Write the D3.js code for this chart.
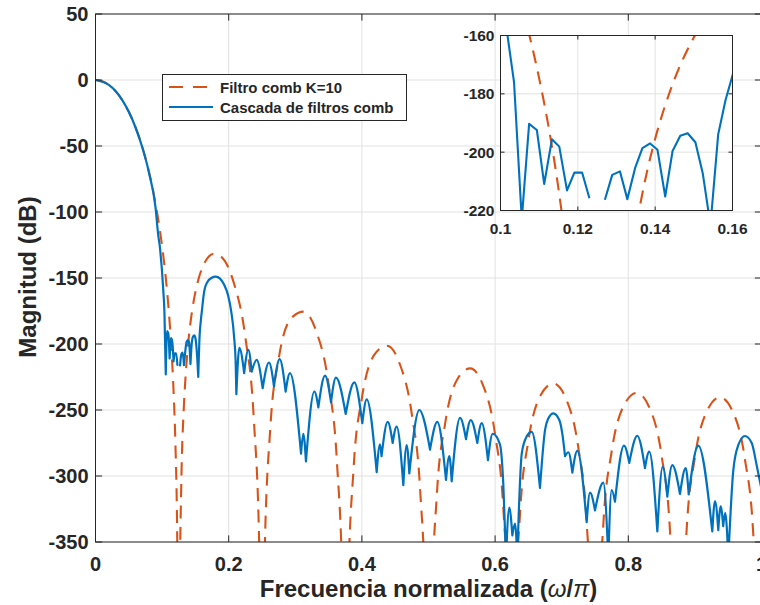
<!DOCTYPE html>
<html>
<head>
<meta charset="utf-8">
<script src="https://cdn.jsdelivr.net/npm/d3@7"></script>
<style>
  body { margin: 0; background: #fff; }
  svg text { font-family: "Liberation Sans", Arial, Helvetica, sans-serif; font-weight: bold; fill: #262626; }
</style>
</head>
<body>
<div id="chart"></div>
<script>
// Filtro comb K=10 (values below -350 only shape the nulls)
const combFreq = [0, 0.01, 0.02, 0.03, 0.04, 0.05, 0.06, 0.07, 0.08, 0.09, 0.095, 0.1, 0.105, 0.1075, 0.11, 0.1125, 0.115, 0.1175, 0.12, 0.1225, 0.124, 0.125,
  0.12625, 0.12875, 0.1325, 0.135, 0.1375, 0.14, 0.1425, 0.145, 0.1475, 0.15, 0.155, 0.16, 0.16875, 0.1775, 0.1875, 0.20625, 0.225, 0.2375, 0.24625, 0.24875, 0.25,
  0.25125, 0.25375, 0.2625, 0.275, 0.29375, 0.3125, 0.33125, 0.35, 0.3625, 0.37125, 0.37375, 0.375,
  0.37625, 0.37875, 0.3875, 0.4, 0.41875, 0.4375, 0.45625, 0.475, 0.4875, 0.49625, 0.49875, 0.5,
  0.50125, 0.50375, 0.5125, 0.525, 0.54375, 0.5625, 0.58125, 0.6, 0.6125, 0.62125, 0.62375, 0.625,
  0.62625, 0.62875, 0.6375, 0.65, 0.66875, 0.6875, 0.70625, 0.725, 0.7375, 0.74625, 0.74875, 0.75,
  0.75125, 0.75375, 0.7625, 0.775, 0.79375, 0.8125, 0.83125, 0.85, 0.8625, 0.87125, 0.87375, 0.875,
  0.87625, 0.87875, 0.8875, 0.9, 0.91875, 0.9375, 0.95625, 0.975, 0.9875, 0.99625, 1];
const combDb = [0, -0.9, -3.7, -8.4, -15.1, -24.1, -35.7, -50.4, -69.1, -93.3, -108.2, -125.9, -147.3, -160.1, -174.7, -191.8, -212.6, -239.1, -275.8, -337.6, -418, -500,
  -400, -307, -249.4, -226.4, -209, -195.4, -184.3, -175, -167.2, -160.7, -150.2, -142.6, -134.5, -131.6, -133.4, -151.4, -194.9, -255.2, -361.4, -458, -520,
  -458, -364, -263.4, -211.4, -180.5, -175.5, -190.1, -230.6, -289.2, -394.3, -490, -560,
  -490.6, -395.8, -294.3, -240.9, -208.1, -201.3, -214.3, -253.4, -311, -415.5, -511, -580,
  -511.5, -416.5, -314.4, -260.2, -226.3, -218.5, -230.5, -268.6, -325.6, -429.7, -525, -590,
  -525.5, -430.4, -327.9, -273.2, -238.5, -229.9, -241.3, -278.7, -335.2, -439, -534.5, -600,
  -534.6, -439.4, -336.6, -281.5, -246.2, -237, -247.7, -284.6, -340.8, -444.4, -539.7, -600,
  -539.8, -444.6, -341.5, -285.9, -250.1, -240.4, -250.6, -287, -342.8, -446, -600];

// Cascada de filtros comb (null = -Inf, gap in the line)
const cascFreq = [0, 0.02, 0.04, 0.06, 0.07, 0.08, 0.09, 0.0943, 0.0968, 0.0977, 0.0996, 0.1016, 0.1035, 0.1055,
  0.1074, 0.1094, 0.1113, 0.1133, 0.1152, 0.1172, 0.1191, 0.1211, 0.123, 0.125, 0.127, 0.1289, 0.1309, 0.1328, 0.1348, 0.1367,
  0.1387, 0.1406, 0.1426, 0.1445, 0.1465, 0.1484, 0.1504, 0.1523, 0.1543, 0.1563, 0.1582, 0.1602, 0.1621, 0.1641,
  0.168, 0.174, 0.1805, 0.187, 0.193, 0.199, 0.204, 0.208, 0.2105, 0.2115,
  0.216, 0.2232, 0.2295, 0.2345, 0.242, 0.251, 0.2605, 0.268, 0.2765, 0.2855, 0.292, 0.3086, 0.312, 0.316,
  0.3286, 0.3346, 0.3446, 0.3536, 0.361, 0.3757, 0.3886, 0.4006, 0.4072, 0.4222, 0.4272, 0.4295, 0.4387, 0.4462, 0.4522,
  0.4622, 0.4672, 0.4712, 0.4862, 0.5023, 0.5132, 0.5263, 0.5313, 0.5348, 0.5473, 0.5563, 0.5634, 0.5733, 0.5799, 0.5893,
  0.5964, 0.6073, 0.6123, 0.6164, 0.6213, 0.6259, 0.6299, 0.6333, 0.64, 0.6474, 0.655, 0.6674, 0.675, 0.68, 0.6874, 0.6964,
  0.7015, 0.705, 0.71, 0.716, 0.7234, 0.7375, 0.7425, 0.75, 0.7625, 0.77, 0.775, 0.78, 0.7935, 0.8015, 0.8135, 0.825,
  0.8315, 0.8436, 0.8516, 0.8586, 0.866, 0.8776, 0.8862, 0.8907, 0.9051, 0.9261, 0.9302, 0.9351, 0.9387, 0.9425, 0.9455,
  0.9502, 0.9577, 0.9652, 0.9752, 0.9853, 0.9928, 1];
const cascDb = [0, -3.7, -15.1, -35.8, -50.6, -69.5, -96, -118, -127, -132, -143, -158, -176, -223,
  -190.3, -192.4, -210.9, -195.6, -198.1, -213.1, -207, -207, -215.8, null, -216.3, -207.8, -206.6, -216.1, -205.5, -198.6,
  -197, -199.2, -215.2, -199.6, -194.4, -193.5, -196.6, -207.2, -225, -193.9, -182.1, -172.8, -164, -158,
  -153, -150, -149, -150.5, -155, -163, -176, -194, -215, -238,
  -203, -222, -204.5, -221, -212, -233.5, -214, -232, -211.5, -236, -222, -283, -268, -289,
  -236, -248, -224, -244, -225.5, -253, -229, -260, -242, -297, -276, -285, -259, -275, -262.6,
  -307, -276.5, -298, -250, -280, -259, -303, -285, -304, -256, -272, -257.6, -275, -260, -288,
  -268, -276, -306, -362, -324, -345, -336, -362, -283, -270, -266.5, -309, -265, -256.3, -252.5, -257.6,
  -270, -285, -282, -297.5, -281, -335, -312.6, -326, -305, -362, -310.6, -319.5, -277, -290, -269.5, -294,
  -281.6, -342, -293, -315.7, -291.7, -313.6, -294, -314, -277, -342, -319, -341, -323, -338, -328,
  -362, -295.5, -276.5, -269.7, -275, -292, -310];

const xTicks = [0, 0.2, 0.4, 0.6, 0.8, 1];
const xTickLabels = ["0", "0.2", "0.4", "0.6", "0.8", "1"];
const yTicks = [50, 0, -50, -100, -150, -200, -250, -300, -350];
const yTickLabels = ["50", "0", "-50", "-100", "-150", "-200", "-250", "-300", "-350"];
const insetXTicks = [0.1, 0.12, 0.14, 0.16];
const insetXTickLabels = ["0.1", "0.12", "0.14", "0.16"];
const insetYTicks = [-160, -180, -200, -220];
const insetYTickLabels = ["-160", "-180", "-200", "-220"];
const legendLabels = ["Filtro comb K=10", "Cascada de filtros comb"];

const ORANGE = "#D95319", BLUE = "#0072BD", AXIS = "#262626", GRID = "#e1e1e1";
const DASH = "13,8.5";

const comb = combFreq.map((f, i) => [f, combDb[i]]);
const casc = cascFreq.map((f, i) => [f, cascDb[i]]);

const W = 760, H = 605;
const svg = d3.select("#chart").append("svg").attr("width", W).attr("height", H);

const x = d3.scaleLinear().domain([0, 1]).range([95.5, 761.5]);
const y = d3.scaleLinear().domain([-350, 50]).range([542, 14]);

// split the cascade into lobes at its notches so the notches stay sharp
function lobes(data) {
  const segs = [];
  let cur = [];
  data.forEach((p, i) => {
    if (p[1] === null) { if (cur.length > 1) segs.push(cur); cur = []; return; }
    cur.push(p);
    const a = data[i - 1], b = data[i + 1];
    if (a && b && a[1] !== null && b[1] !== null && p[1] < a[1] && p[1] < b[1]) {
      segs.push(cur);
      cur = [p];
    }
  });
  if (cur.length > 1) segs.push(cur);
  return segs;
}

function drawGrid(g, xs, ys, xt, yt) {
  const [x0, x1] = xs.range(), [y0, y1] = ys.range();
  g.append("g").selectAll("line").data(xt).join("line")
    .attr("x1", d => xs(d)).attr("x2", d => xs(d)).attr("y1", y0).attr("y2", y1)
    .attr("stroke", GRID).attr("stroke-width", 1);
  g.append("g").selectAll("line").data(yt).join("line")
    .attr("x1", x0).attr("x2", x1).attr("y1", d => ys(d)).attr("y2", d => ys(d))
    .attr("stroke", GRID).attr("stroke-width", 1);
}

function drawFrame(g, xs, ys, xt, xtl, yt, ytl, fontSize, tickLen, labelGapX, labelGapY) {
  const [x0, x1] = xs.range(), [y0, y1] = ys.range();
  const t = g.append("g").attr("stroke", AXIS).attr("stroke-width", 1);
  xt.forEach(d => {
    t.append("line").attr("x1", xs(d)).attr("x2", xs(d)).attr("y1", y0).attr("y2", y0 - tickLen);
    t.append("line").attr("x1", xs(d)).attr("x2", xs(d)).attr("y1", y1).attr("y2", y1 + tickLen);
  });
  yt.forEach(d => {
    t.append("line").attr("x1", x0).attr("x2", x0 + tickLen).attr("y1", ys(d)).attr("y2", ys(d));
    t.append("line").attr("x1", x1).attr("x2", x1 - tickLen).attr("y1", ys(d)).attr("y2", ys(d));
  });
  g.append("rect").attr("x", x0).attr("y", y1).attr("width", x1 - x0).attr("height", y0 - y1)
    .attr("fill", "none").attr("stroke", AXIS).attr("stroke-width", 1);
  g.append("g").selectAll("text").data(xt).join("text")
    .attr("x", d => xs(d)).attr("y", y0 + labelGapY)
    .attr("text-anchor", "middle").style("font-size", fontSize + "px")
    .text((d, i) => xtl[i]);
  g.append("g").selectAll("text").data(yt).join("text")
    .attr("x", x0 - labelGapX).attr("y", d => ys(d)).attr("dy", "0.36em")
    .attr("text-anchor", "end").style("font-size", fontSize + "px")
    .text((d, i) => ytl[i]);
}

// ---------- main axes ----------
const main = svg.append("g");
drawGrid(main, x, y, xTicks, yTicks);

svg.append("clipPath").attr("id", "clipMain").append("rect")
  .attr("x", 95.5).attr("y", 14).attr("width", 666).attr("height", 528);

const lineMain = d3.line().x(d => x(d[0])).y(d => y(d[1])).curve(d3.curveMonotoneX);
const plotMain = main.append("g").attr("clip-path", "url(#clipMain)");
plotMain.append("path").attr("d", lineMain(comb))
  .attr("fill", "none").attr("stroke", ORANGE).attr("stroke-width", 2.1)
  .attr("stroke-dasharray", DASH);
plotMain.append("path").attr("d", lobes(casc).map(s => lineMain(s)).join(""))
  .attr("fill", "none").attr("stroke", BLUE).attr("stroke-width", 2.2)
  .attr("stroke-linecap", "round").attr("stroke-linejoin", "round");

drawFrame(main, x, y, xTicks, xTickLabels, yTicks, yTickLabels, 20, 6.6, 7, 29);

const xl = svg.append("text").attr("x", 428.5).attr("y", 597)
  .attr("text-anchor", "middle").style("font-size", "24px");
xl.append("tspan").text("Frecuencia normalizada (");
xl.append("tspan").style("font-style", "italic").style("font-weight", "normal").text("ω");
xl.append("tspan").text("/");
xl.append("tspan").style("font-style", "italic").style("font-weight", "normal").text("π");
xl.append("tspan").text(")");

svg.append("text").attr("transform", "translate(36,277) rotate(-90)")
  .attr("text-anchor", "middle").style("font-size", "24px")
  .text("Magnitud (dB)");

// ---------- legend ----------
const leg = svg.append("g");
leg.append("rect").attr("x", 162.5).attr("y", 74.5).attr("width", 244).attr("height", 46)
  .attr("fill", "#fff").attr("stroke", AXIS).attr("stroke-width", 1);
legendLabels.forEach((lab, i) => {
  const ly = 87 + i * 20;
  leg.append("line").attr("x1", 169).attr("x2", 213).attr("y1", ly).attr("y2", ly)
    .attr("stroke", i === 0 ? ORANGE : BLUE).attr("stroke-width", 2.1)
    .attr("stroke-dasharray", i === 0 ? "14,10" : null);
  leg.append("text").attr("x", 220).attr("y", ly + 5.5).style("font-size", "15px").text(lab);
});

// ---------- inset ----------
const xi = d3.scaleLinear().domain([0.1, 0.16]).range([500.5, 732.5]);
const yi = d3.scaleLinear().domain([-220, -160]).range([210.5, 35.5]);
const ins = svg.append("g");
ins.append("rect").attr("x", 500.5).attr("y", 35.5).attr("width", 232).attr("height", 175).attr("fill", "#fff");
drawGrid(ins, xi, yi, insetXTicks, insetYTicks);
svg.append("clipPath").attr("id", "clipInset").append("rect")
  .attr("x", 500.5).attr("y", 35.5).attr("width", 232).attr("height", 175);
const plotIns = ins.append("g").attr("clip-path", "url(#clipInset)");
plotIns.append("path")
  .attr("d", d3.line().x(d => xi(d[0])).y(d => yi(d[1])).curve(d3.curveMonotoneX)(comb))
  .attr("fill", "none").attr("stroke", ORANGE).attr("stroke-width", 2.1)
  .attr("stroke-dasharray", DASH);
plotIns.append("path")
  .attr("d", d3.line().defined(d => d[1] !== null).x(d => xi(d[0])).y(d => yi(d[1]))(casc.filter(d => d[0] > 0.09 && d[0] < 0.17)))
  .attr("fill", "none").attr("stroke", BLUE).attr("stroke-width", 2.1)
  .attr("stroke-linejoin", "round");
drawFrame(ins, xi, yi, insetXTicks, insetXTickLabels, insetYTicks, insetYTickLabels, 15.5, 4, 6, 23);
</script>
</body>
</html>
